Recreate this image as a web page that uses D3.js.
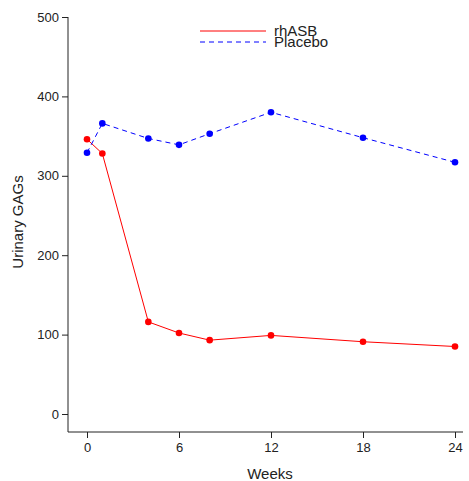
<!DOCTYPE html>
<html>
<head>
<meta charset="utf-8">
<style>
  body { margin: 0; background: #fff; }
  text { font-family: "Liberation Sans", Arial, sans-serif; fill: #222; }
  .axis path, .axis line { stroke: #222; }
</style>
</head>
<body>
<svg class="chart"></svg>
<script src="https://cdn.jsdelivr.net/npm/d3@7"></script>
<script>
var weeks = [0, 1, 4, 6, 8, 12, 18, 24];
var rhASB = [346, 328, 116, 102, 93, 99, 91, 85];
var placebo = [329, 366, 347, 339, 353, 380, 348, 317];
var xTicks = [0, 6, 12, 18, 24];
var yTicks = [0, 100, 200, 300, 400, 500];

var series = [
  { name: "rhASB", values: rhASB, color: "#ff0000", dash: null },
  { name: "Placebo", values: placebo, color: "#0000ff", dash: "5,4" }
];

var chart = d3.select(".chart")
  .attr("width", 469)
  .attr("height", 481);

var x = d3.scaleLinear().domain([0, 24]).range([87, 455]);
var y = d3.scaleLinear().domain([0, 500]).range([414, 17]);

// axes, drawn as plain lines like base R
chart.append("line")
  .attr("x1", 68).attr("x2", 68).attr("y1", 17).attr("y2", 432)
  .attr("stroke", "#222");
chart.append("line")
  .attr("x1", 68).attr("x2", 463).attr("y1", 432).attr("y2", 432)
  .attr("stroke", "#222");

var yAxis = chart.append("g")
  .attr("class", "axis")
  .attr("transform", "translate(68,0)")
  .call(d3.axisLeft(y).tickValues(yTicks).tickSize(6).tickPadding(3));
yAxis.select(".domain").remove();
yAxis.selectAll("text").style("font-size", "13px").attr("fill", "#222");

var xAxis = chart.append("g")
  .attr("class", "axis")
  .attr("transform", "translate(0,432)")
  .call(d3.axisBottom(x).tickValues(xTicks).tickSize(6).tickPadding(5));
xAxis.select(".domain").remove();
xAxis.selectAll("text").style("font-size", "13px").attr("fill", "#222");

chart.append("text")
  .attr("x", 270).attr("y", 479)
  .attr("text-anchor", "middle")
  .style("font-size", "15px")
  .text("Weeks");

chart.append("text")
  .attr("transform", "translate(23,222) rotate(-90)")
  .attr("text-anchor", "middle")
  .style("font-size", "15px")
  .text("Urinary GAGs");

var line = d3.line()
  .x(function(d) { return x(d[0]); })
  .y(function(d) { return y(d[1]); });

series.forEach(function(s) {
  var pts = weeks.map(function(w, i) { return [w, s.values[i]]; });
  chart.append("path")
    .datum(pts)
    .attr("d", line)
    .attr("fill", "none")
    .attr("stroke", s.color)
    .attr("stroke-width", 1)
    .attr("stroke-dasharray", s.dash);
  chart.selectAll(".pt-" + s.name)
    .data(pts)
    .enter()
    .append("circle")
    .attr("cx", function(d) { return x(d[0]); })
    .attr("cy", function(d) { return y(d[1]); })
    .attr("r", 3.3)
    .attr("fill", s.color);
});

// legend
var legend = chart.append("g");
series.forEach(function(s, i) {
  var ly = 31 + i * 11;
  legend.append("line")
    .attr("x1", 200).attr("x2", 266)
    .attr("y1", ly).attr("y2", ly)
    .attr("stroke", s.color)
    .attr("stroke-dasharray", s.dash);
  legend.append("text")
    .attr("x", 274).attr("y", ly + 5)
    .style("font-size", "15px")
    .text(s.name);
});
</script>
</body>
</html>
